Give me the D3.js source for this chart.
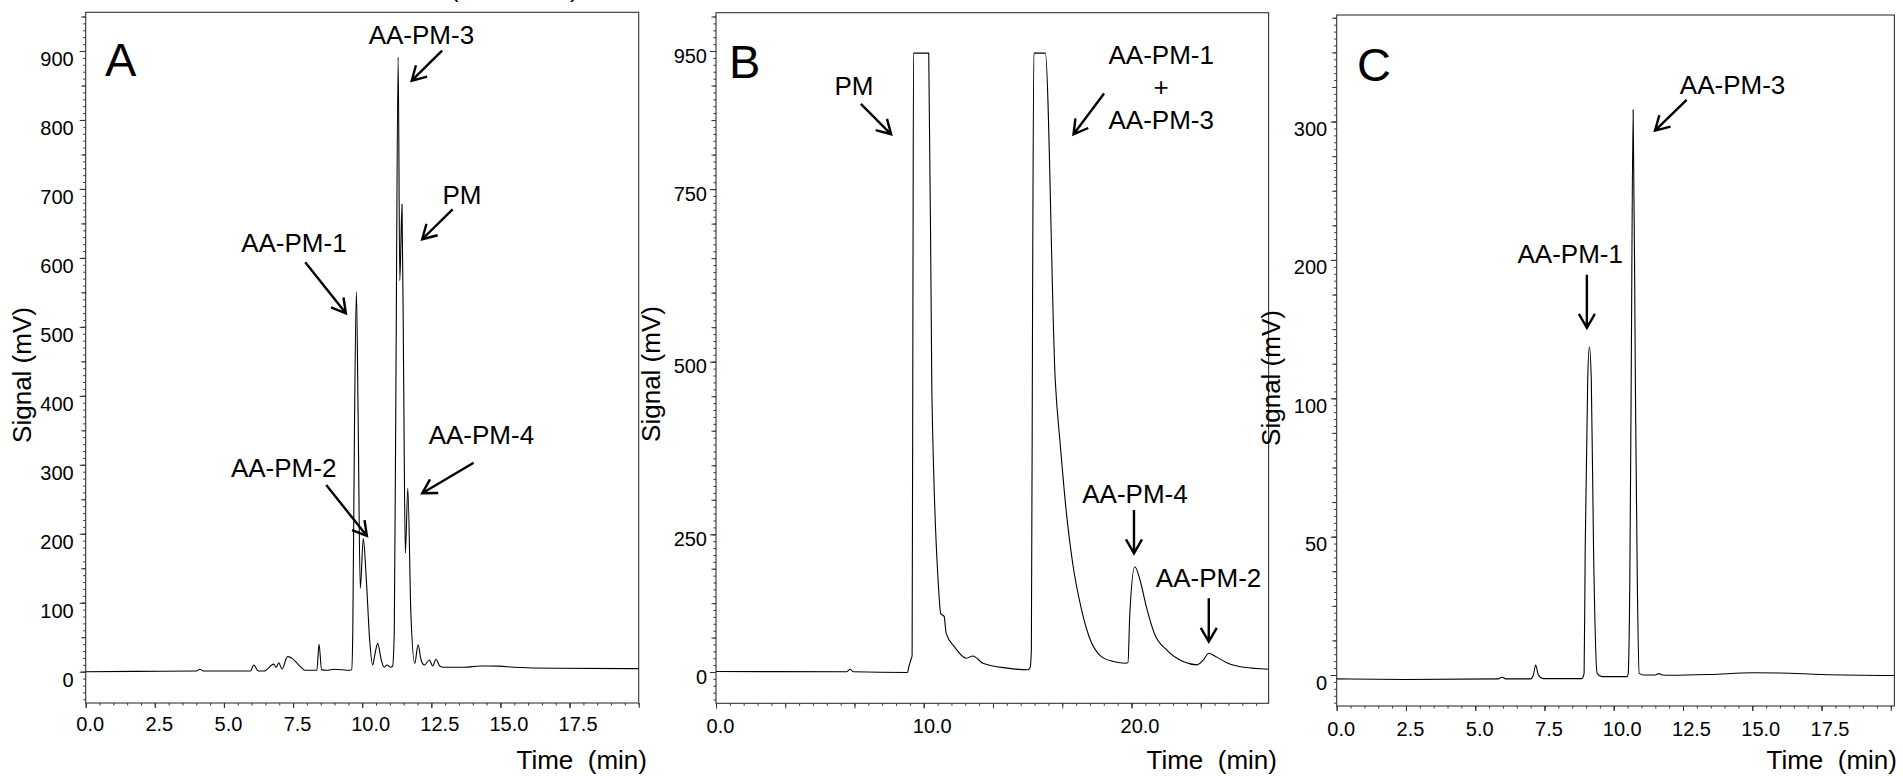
<!DOCTYPE html>
<html><head><meta charset="utf-8">
<script src="https://cdn.jsdelivr.net/npm/d3@7"></script>
<style>
html,body{margin:0;padding:0;background:#fff;}
svg{display:block;font-family:"Liberation Sans",Arial,Helvetica,sans-serif;}
</style></head><body>
<svg id="chart" width="1903" height="776"></svg>
<script>
// ---------------- DATA ----------------
// Panel A
const aTime = [0,1.8,4.0,4.13,4.26,5.96,6.08,6.24,6.45,6.80,6.89,6.98,7.10,7.30,7.48,7.64,7.78,7.93,8.36,8.44,8.53,8.70,9.0,9.55,9.62,9.66,9.72,9.79,9.85,9.93,10.04,10.15,10.27,10.38,10.45,10.56,10.69,10.79,10.90,11.03,11.10,11.16,11.22,11.30,11.36,11.44,11.50,11.56,11.65,11.76,11.90,12.02,12.13,12.25,12.43,12.55,12.67,12.81,12.96,13.7,14.26,14.95,15.47,17.0,20.0];
const aSignal = [0,0.5,1,3.5,1,1,9.7,1,1,11,6.5,13,4,21.8,18.9,12.5,6.7,2,2,39.7,3,2,3.5,2,3,60,350,551,380,121,193,133,46,9.7,23,41,17,6.5,9.7,6.5,8,60,420,891,567,678,420,172,266,85,12,39,17,9.7,17,8.2,18,8,6.5,6.5,8.2,8,6.5,5,4.4];
const aXTicks = [0,2.5,5,7.5,10,12.5,15,17.5];
const aYTicks = [0,100,200,300,400,500,600,700,800,900];
const aYLabels = ["0","100","200","300","400","500","600","700","800","900"];

// Panel B
const bTime = [0,6.3,6.46,6.6,9.21,9.30,9.38,9.44,9.48,9.51,10.24,10.39,10.49,10.69,10.82,10.88,10.98,11.08,11.47,12.06,12.36,12.85,14.03,15.01,15.12,15.18,15.24,15.30,15.85,16.33,16.58,16.87,17.17,17.56,17.96,18.55,19.14,19.73,19.83,19.92,20.16,20.41,20.71,21.10,21.69,22.48,23.16,23.46,23.72,24.05,24.64,25.42,26.6];
const bSignal = [1,0.5,5,0.5,-1,12,22,30,600,947,947,459,329,167,106,104,101,70,46,25,29,16,7,4,8,40,600,947,947,473,377,280,197,119,64,28,19,16,17,106,191,167,119,70,40,19,13,22,34,28,16,8.5,5];
const bXTicks = [0,10,20];
const bYTicks = [0,250,500,750,950];
const bYLabels = ["0","250","500","750","950"];

// Panel C
const cTime = [0,2.5,5.82,5.97,6.10,7.0,7.10,7.18,7.28,7.45,8.85,8.93,8.97,9.06,9.12,9.19,9.27,9.40,9.57,10.48,10.52,10.58,10.63,10.70,10.78,10.85,10.92,11.07,11.50,11.62,11.75,12.06,13.5,15.0,16.0,17.5,20.13];
const cSignal = [-1.4,-1.6,-1.4,-0.8,-1.4,-1.4,0,3.6,0,-1.3,-1.3,0.6,46,113,137.3,113,46,0.6,-0.6,-0.6,0.6,34,113,308.5,113,34,0.6,0,0,0.5,0,-0.1,0.2,0.8,0.7,0.2,-0.2];
const cXTicks = [0,2.5,5,7.5,10,12.5,15,17.5];
const cYTicks = [0,50,100,200,300];
const cYLabels = ["0","50","100","200","300"];

// Annotations (anchor in data units: time, signal)
const aNotes = [
  {lines:["AA-PM-3"], t:12.14, v:910,   from:[12.89,900.4], to:[11.79,856.9]},
  {lines:["PM"],      t:13.61, v:678.1, from:[13.27,670.4], to:[12.17,627.0]},
  {lines:["AA-PM-1"], t:7.53,  v:608.5, from:[7.94,593.6],  to:[9.41,519.7]},
  {lines:["AA-PM-2"], t:7.16,  v:282.7, from:[8.70,270.7],  to:[10.17,196.8]},
  {lines:["AA-PM-4"], t:14.31, v:330.2, from:[14.03,303.0], to:[12.17,258.7]}
];
const bNotes = [
  {lines:["PM"], t:6.64, v:886.3, from:[6.97,873.3], to:[8.43,829.4]},
  {lines:["AA-PM-1","+","AA-PM-3"], t:21.43, v:931.2, from:[18.68,888.4], to:[17.21,829.4]},
  {lines:["AA-PM-4"], t:20.17, v:295.8, from:[20.12,285.2], to:[20.12,215.5]},
  {lines:["AA-PM-2"], t:23.71, v:153.8, from:[23.72,133.8], to:[23.72,55.0]}
];
const cNotes = [
  {lines:["AA-PM-3"], t:14.29, v:320.0, from:[12.63,315.7], to:[11.49,293.5]},
  {lines:["AA-PM-1"], t:8.43,  v:197.6, from:[9.03,189.2],  to:[9.03,151.0]}
];

// ---------------- DRAW ----------------
const svg = d3.select("#chart");
const FONT = '"Liberation Sans", Arial, Helvetica, sans-serif';
const AXIS_COLOR = "#333";
const fmt1 = d3.format(".1f");

function drawArrow(g, x1, y1, x2, y2) {
  const ang = Math.atan2(y1 - y2, x1 - x2);
  const L = 16, a = Math.PI / 6;
  const b1 = [x2 + L * Math.cos(ang + a), y2 + L * Math.sin(ang + a)];
  const b2 = [x2 + L * Math.cos(ang - a), y2 + L * Math.sin(ang - a)];
  g.append("path")
    .attr("d", `M${x1},${y1}L${x2},${y2}M${b1[0]},${b1[1]}L${x2},${y2}L${b2[0]},${b2[1]}`)
    .attr("fill", "none").attr("stroke", "#000").attr("stroke-width", 2.4)
    .attr("stroke-linejoin", "miter");
}

function panel(cfg) {
  const g = svg.append("g");
  const x = d3.scaleLinear().domain(cfg.xDomain).range([cfg.left, cfg.right]);
  const y = d3.scaleLinear().domain(cfg.yDomain).range(cfg.yRange);

  // Y axis ticks
  const ya = g.append("g").attr("transform", `translate(${cfg.left},0)`).attr("color", AXIS_COLOR);
  ya.append("g").call(d3.axisLeft(y).tickValues(cfg.yMinor).tickSize(2.5).tickFormat(""))
    .call(s => s.select(".domain").remove());
  ya.append("g").call(d3.axisLeft(y).tickValues(cfg.yMid).tickSize(4.5).tickFormat(""))
    .call(s => s.select(".domain").remove());
  const yl = ya.append("g").call(d3.axisLeft(y).tickValues(cfg.yTicks).tickSize(6)
      .tickFormat(d => cfg.yLabels[cfg.yTicks.indexOf(d)]));
  yl.select(".domain").remove();
  yl.selectAll("text").attr("x", -cfg.yGap).attr("dy", null).attr("y", cfg.yDy)
    .attr("fill", "#000").style("font-size", "20px").style("font-family", FONT);

  // X axis ticks
  const xa = g.append("g").attr("transform", `translate(0,${cfg.bottom})`).attr("color", AXIS_COLOR);
  xa.append("g").call(d3.axisBottom(x).tickValues(cfg.xMinor).tickSize(2.5).tickFormat(""))
    .call(s => s.select(".domain").remove());
  xa.append("g").call(d3.axisBottom(x).tickValues(cfg.xMid).tickSize(5).tickFormat(""))
    .call(s => s.select(".domain").remove());
  const xl = xa.append("g").call(d3.axisBottom(x).tickValues(cfg.xTicks).tickSize(5).tickFormat(fmt1));
  xl.select(".domain").remove();
  xl.selectAll("text").attr("y", cfg.xDy).attr("dy", null)
    .attr("x", function () { return this.textContent.length >= 4 ? 8 : 4; })
    .attr("fill", "#000").style("font-size", "20px").style("font-family", FONT);

  // Frame
  g.append("rect").attr("x", cfg.left).attr("y", cfg.top)
    .attr("width", cfg.right - cfg.left).attr("height", cfg.bottom - cfg.top)
    .attr("fill", "none").attr("stroke", AXIS_COLOR).attr("stroke-width", 1.1);

  // Clip + chromatogram
  const clipId = "clip" + cfg.name;
  svg.append("clipPath").attr("id", clipId).append("rect")
    .attr("x", cfg.left).attr("y", cfg.top)
    .attr("width", cfg.right - cfg.left).attr("height", cfg.bottom - cfg.top);
  const pts = cfg.time.map((t, i) => [t, cfg.signal[i]]);
  g.append("path").datum(pts)
    .attr("clip-path", `url(#${clipId})`)
    .attr("d", d3.line().x(d => x(d[0])).y(d => y(d[1])).curve(d3.curveMonotoneX))
    .attr("fill", "none").attr("stroke", "#000").attr("stroke-width", 1.1)
    .attr("stroke-linejoin", "round");

  // Annotations
  cfg.notes.forEach(n => {
    const t = g.append("text").attr("text-anchor", "middle")
      .attr("x", x(n.t)).attr("y", y(n.v))
      .style("font-size", "26px").style("font-family", FONT).attr("fill", "#000");
    n.lines.forEach((ln, i) => {
      t.append("tspan").attr("x", x(n.t)).attr("dy", i === 0 ? 0 : 32.5).text(ln);
    });
    drawArrow(g, x(n.from[0]), y(n.from[1]), x(n.to[0]), y(n.to[1]));
  });

  // Panel letter
  g.append("text").attr("x", cfg.letterX).attr("y", cfg.letterY)
    .style("font-size", "47px").style("font-family", FONT).attr("fill", "#000").text(cfg.name);

  // Axis titles
  g.append("text").attr("text-anchor", "end").attr("x", cfg.timeEnd).attr("y", 769)
    .style("font-size", "26px").style("font-family", FONT).style("white-space", "pre")
    .attr("fill", "#000").text("Time  (min)");
  g.append("text").attr("text-anchor", "middle")
    .attr("transform", `translate(${cfg.sigX},${cfg.sigY}) rotate(-90)`)
    .style("font-size", "26px").style("font-family", FONT).attr("fill", "#000")
    .text("Signal (mV)");
}

panel({
  name: "A", left: 85.7, right: 638.7, top: 12.3, bottom: 703,
  xDomain: [0, 20], yDomain: [-45.4, 956.1], yRange: [703, 12.3],
  time: aTime, signal: aSignal, notes: aNotes,
  xTicks: aXTicks, xMid: d3.range(0, 20.01, 2.5), xMinor: d3.range(0, 20.01, 0.5),
  yTicks: aYTicks, yLabels: aYLabels,
  yMid: d3.range(-0, 951, 50), yMinor: d3.range(-40, 951, 10),
  yGap: 12, yDy: 14.5, xDy: 28,
  letterX: 105, letterY: 76, timeEnd: 647, sigX: 31, sigY: 375
});

panel({
  name: "B", left: 716, right: 1268.6, top: 12.7, bottom: 703.3,
  xDomain: [0, 26.6], yDomain: [-56.8, 0, 250, 1005.5], yRange: [703.3, 672, 534.3, 12.7],
  time: bTime, signal: bSignal, notes: bNotes,
  xTicks: bXTicks, xMid: d3.range(0, 26.6, 10 / 3), xMinor: d3.range(0, 26.6, 2 / 3),
  yTicks: bYTicks, yLabels: bYLabels,
  yMid: d3.range(0, 250, 62.5).concat(d3.range(250, 1001, 50)),
  yMinor: d3.range(-50, 250, 12.5).concat(d3.range(250, 1001, 10)),
  yGap: 9, yDy: 11, xDy: 30,
  letterX: 729, letterY: 78, timeEnd: 1277, sigX: 660, sigY: 374
});

panel({
  name: "C", left: 1336.7, right: 1894.4, top: 15, bottom: 706,
  xDomain: [0, 20.13], yDomain: [-11.2, 0, 100, 377], yRange: [706, 675, 398.3, 15],
  time: cTime, signal: cSignal, notes: cNotes,
  xTicks: cXTicks, xMid: d3.range(0, 20.01, 2.5), xMinor: d3.range(0, 20.1, 0.5),
  yTicks: cYTicks, yLabels: cYLabels,
  yMid: d3.range(0, 100, 12.5).concat(d3.range(100, 376, 25)),
  yMinor: d3.range(-10, 100, 2.5).concat(d3.range(100, 376, 5)),
  yGap: 9.5, yDy: 14, xDy: 30,
  letterX: 1357, letterY: 81, timeEnd: 1897, sigX: 1280, sigY: 378
});

// Clipped heading fragment at the very top (only the bottoms of parentheses are visible)
svg.append("text").attr("y", -3).style("font-size", "26px").style("font-family", FONT).attr("fill", "#000")
  .call(t => { t.append("tspan").attr("x", 450).text("("); t.append("tspan").attr("x", 570).text(")"); });
</script>
</body></html>
